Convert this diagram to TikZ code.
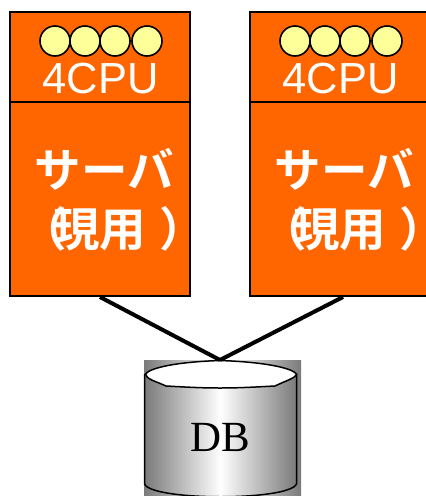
\documentclass[tikz,border=0pt]{standalone}
\usepackage{fontspec}
\setmainfont{Liberation Sans}
\newfontfamily\serifdb{Liberation Serif}
\newfontfamily\cjk{Noto Sans CJK JP}[BoldFont={Noto Sans CJK JP Bold}]
\definecolor{srvorange}{RGB}{255,102,0}
\definecolor{cpuyellow}{RGB}{255,255,153}
\tikzset{
  srvbox/.style={draw=black,line width=1.4pt,fill=srvorange,minimum width=180pt,minimum height=284pt,inner sep=0pt,outer sep=0pt},
  cpu/.style={circle,draw=black,line width=1.6pt,fill=cpuyellow,minimum size=30pt,inner sep=0pt},
  cputext/.style={text=white,font=\fontsize{43.5}{44}\selectfont,inner sep=0pt},
  srvtext/.style={text=white,font=\cjk\bfseries\fontsize{46.5}{47}\selectfont,inner sep=0pt},
  link/.style={line width=4pt,black},
  cylline/.style={line width=1.5pt,black},
}
\begin{document}
\begin{tikzpicture}[x=1pt,y=-1pt]
\useasboundingbox (0,0) rectangle (426,496);
\clip (0,0) rectangle (426,496);
\fill[white] (0,0) rectangle (426,496);
% left server
\node[srvbox] (s1) at (100,154) {};
\coordinate (d1l) at (10,102);
\coordinate (d1r) at (190,102);
\draw[line width=1.4pt] (d1l) -- (d1r);
\foreach \n/\x in {a/55,b/85,c/115,d/147}{\node[cpu] (c1\n) at (\x,41) {};}
\node[cputext] (t1) at (100.5,78.5) {4CPU};
\node[srvtext] (u1) at (104.5,169) {サーバ};
\node[srvtext] (v1) at (99.5,229) {（\kern-14pt 現用\kern14pt ）\kern-28pt};
% right server
\node[srvbox] (s2) at (340,154) {};
\coordinate (d2l) at (250,102);
\coordinate (d2r) at (430,102);
\draw[line width=1.4pt] (d2l) -- (d2r);
\foreach \n/\x in {a/295,b/325,c/355,d/387}{\node[cpu] (c2\n) at (\x,41) {};}
\node[cputext] (t2) at (340.5,78.5) {4CPU};
\node[srvtext] (u2) at (344.5,169) {サーバ};
\node[srvtext] (v2) at (339.5,229) {（\kern-14pt 現用\kern14pt ）\kern-28pt};
% database
\shade[left color=black!52,right color=black!52,middle color=white] (144,360) rectangle (301,496);
\shade[left color=black!52,right color=black!52,middle color=white]
  (144.5,374) -- (144.5,484) .. controls (152,501) and (289,501) .. (296.5,484) -- (296.5,374) -- cycle;
\draw[cylline] (144.5,374) -- (144.5,484) .. controls (152,501) and (289,501) .. (296.5,484) -- (296.5,374);
\draw[cylline,fill=white] (145.5,374)
  .. controls (150,368) and (175,362) .. (220,360.5)
  .. controls (265,362) and (292,368) .. (296.5,374)
  .. controls (296,378) and (285,381) .. (275,386)
  .. controls (255,387) and (240,388) .. (220,388)
  .. controls (200,388) and (185,387) .. (166,386)
  .. controls (155,381) and (146,379) .. (145.5,374) -- cycle;
\node[font=\serifdb\fontsize{43}{43}\selectfont,inner sep=0pt] (db) at (220.5,437) {DB};
\coordinate (dbtop) at (220,360);
\coordinate (l1) at (100,297);
\coordinate (l2) at (343,297);
\draw[link] (l1) -- (dbtop);
\draw[link] (l2) -- (dbtop);
\end{tikzpicture}
\end{document}
